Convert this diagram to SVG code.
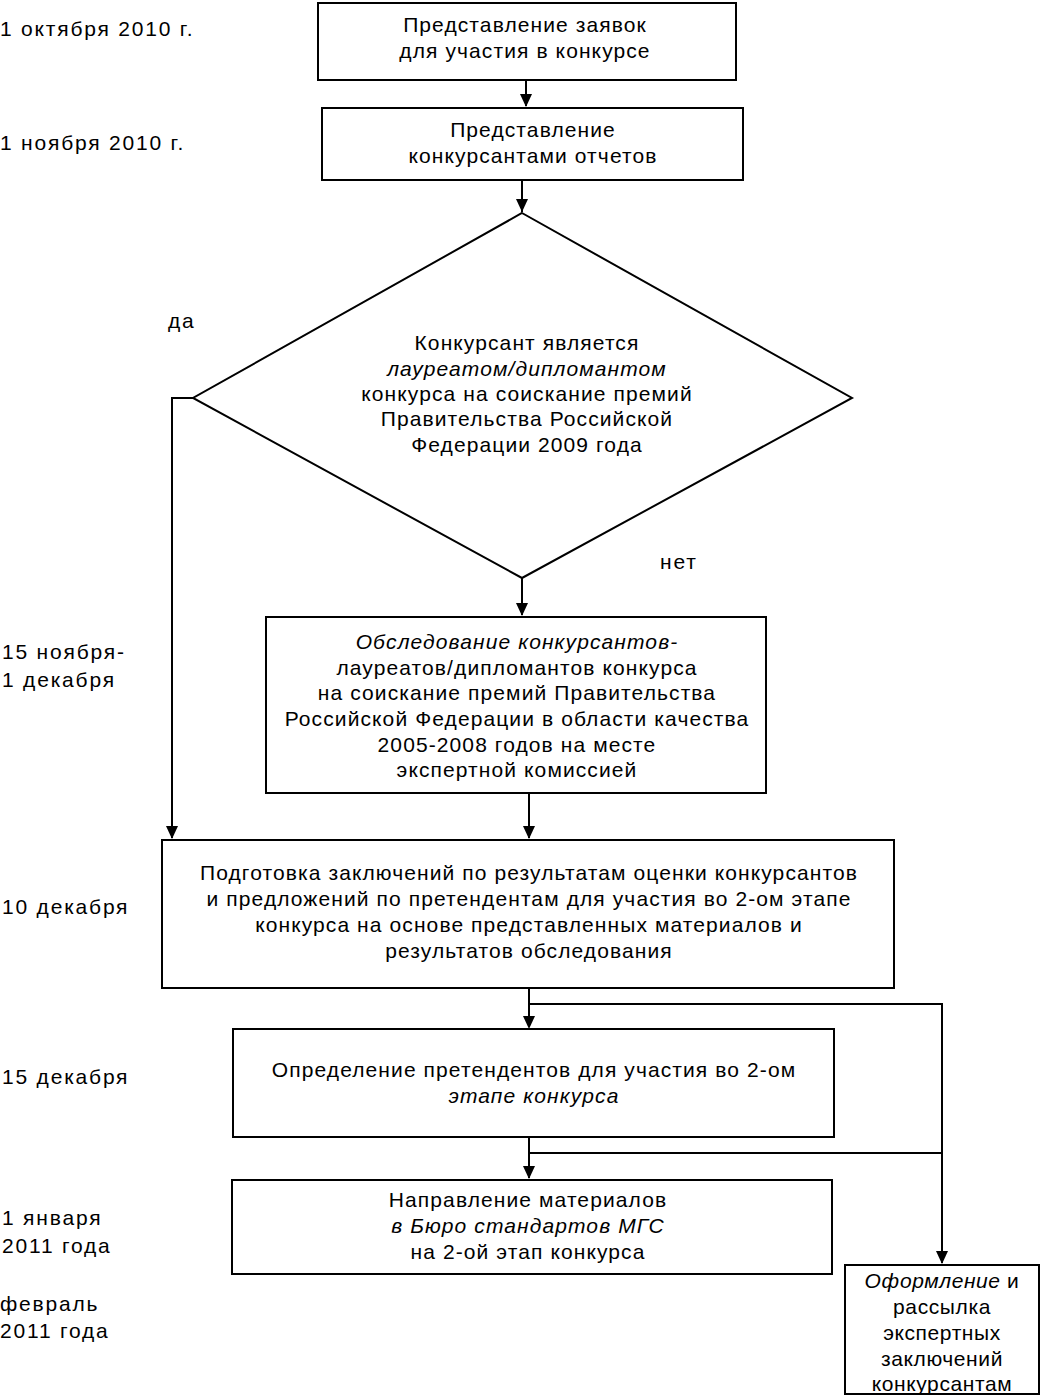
<svg xmlns="http://www.w3.org/2000/svg" width="1044" height="1400" viewBox="0 0 1044 1400">
<defs>
<style>
.box{fill:#fff;stroke:#000;stroke-width:2}
.ln{fill:none;stroke:#000;stroke-width:2}
text{font-family:"Liberation Sans",Arial,sans-serif;font-size:21px;letter-spacing:1.1px;fill:#000}
.c{text-anchor:middle}
.i{font-style:italic}
.d{letter-spacing:1.8px}
.s{letter-spacing:0.6px}
</style>
</defs>
<rect width="1044" height="1400" fill="#fff"/>
<g id="dates">
<text class="d" x="0" y="36">1 октября 2010 г.</text>
<text class="d" x="0" y="150">1 ноября 2010 г.</text>
<text class="d" x="2" y="659">15 ноября-</text>
<text class="d" x="2" y="687">1 декабря</text>
<text class="d" x="2" y="914">10 декабря</text>
<text class="d" x="2" y="1084">15 декабря</text>
<text class="d" x="2" y="1225">1 января</text>
<text class="d" x="2" y="1253">2011 года</text>
<text class="d" x="0" y="1311">февраль</text>
<text class="d" x="0" y="1338">2011 года</text>
</g>
<g id="connectors">
<path class="ln" d="M526,80 V106"/>
<path d="M520,94 L532,94 L526,107 Z"/>
<path class="ln" d="M522,180 V212"/>
<path d="M516,199 L528,199 L522,212 Z"/>
<path class="ln" d="M193,398 H172 V838"/>
<path d="M166,826 L178,826 L172,839 Z"/>
<path class="ln" d="M522,578 V615"/>
<path d="M516,603 L528,603 L522,616 Z"/>
<path class="ln" d="M529,793 V838"/>
<path d="M523,826 L535,826 L529,839 Z"/>
<path class="ln" d="M529,988 V1027"/>
<path d="M523,1016 L535,1016 L529,1029 Z"/>
<path class="ln" d="M529,1004 H942 V1263"/>
<path d="M936,1251 L948,1251 L942,1264 Z"/>
<path class="ln" d="M529,1137 V1178"/>
<path d="M523,1166 L535,1166 L529,1179 Z"/>
<path class="ln" d="M529,1153 H942"/>
</g>
<g id="n1">
<rect class="box" x="318" y="3" width="418" height="77"/>
<text class="c" x="525" y="32">Представление заявок</text>
<text class="c" x="525" y="58">для участия в конкурсе</text>
</g>
<g id="n2">
<rect class="box" x="322" y="108" width="421" height="72"/>
<text class="c" x="533" y="137">Представление</text>
<text class="c" x="533" y="163">конкурсантами отчетов</text>
</g>
<g id="n3">
<polygon class="box" points="522,213 852,398 522,578 193,398"/>
<text class="c" x="527" y="350">Конкурсант является</text>
<text class="c i" x="527" y="376">лауреатом/дипломантом</text>
<text class="c" x="527" y="401">конкурса на соискание премий</text>
<text class="c" x="527" y="426">Правительства Российской</text>
<text class="c" x="527" y="452">Федерации 2009 года</text>
</g>
<g id="labels">
<text class="d" x="168" y="328">да</text>
<text class="d" x="660" y="569">нет</text>
</g>
<g id="n4">
<rect class="box" x="266" y="617" width="500" height="176"/>
<text class="c i" x="517" y="649">Обследование конкурсантов-</text>
<text class="c" x="517" y="675">лауреатов/дипломантов конкурса</text>
<text class="c" x="517" y="700">на соискание премий Правительства</text>
<text class="c" x="517" y="726">Российской Федерации в области качества</text>
<text class="c" x="517" y="752">2005-2008 годов на месте</text>
<text class="c" x="517" y="777">экспертной комиссией</text>
</g>
<g id="n5">
<rect class="box" x="162" y="840" width="732" height="148"/>
<text class="c" x="529" y="880">Подготовка заключений по результатам оценки конкурсантов</text>
<text class="c" x="529" y="906">и предложений по претендентам для участия во 2-ом этапе</text>
<text class="c" x="529" y="932">конкурса на основе представленных материалов и</text>
<text class="c" x="529" y="958">результатов обследования</text>
</g>
<g id="n6">
<rect class="box" x="233" y="1029" width="601" height="108"/>
<text class="c" x="534" y="1077">Определение претендентов для участия во 2-ом</text>
<text class="c i" x="534" y="1103">этапе конкурса</text>
</g>
<g id="n7">
<rect class="box" x="232" y="1180" width="600" height="94"/>
<text class="c" x="528" y="1207">Направление материалов</text>
<text class="c i" x="528" y="1233">в Бюро стандартов МГС</text>
<text class="c" x="528" y="1259">на 2-ой этап конкурса</text>
</g>
<g id="n8">
<rect class="box" x="845" y="1265" width="194" height="129"/>
<text class="c s" x="942" y="1288"><tspan class="i">Оформление</tspan> и</text>
<text class="c s" x="942" y="1314">рассылка</text>
<text class="c s" x="942" y="1340">экспертных</text>
<text class="c s" x="942" y="1366">заключений</text>
<text class="c s" x="942" y="1391">конкурсантам</text>
</g>
</svg>
